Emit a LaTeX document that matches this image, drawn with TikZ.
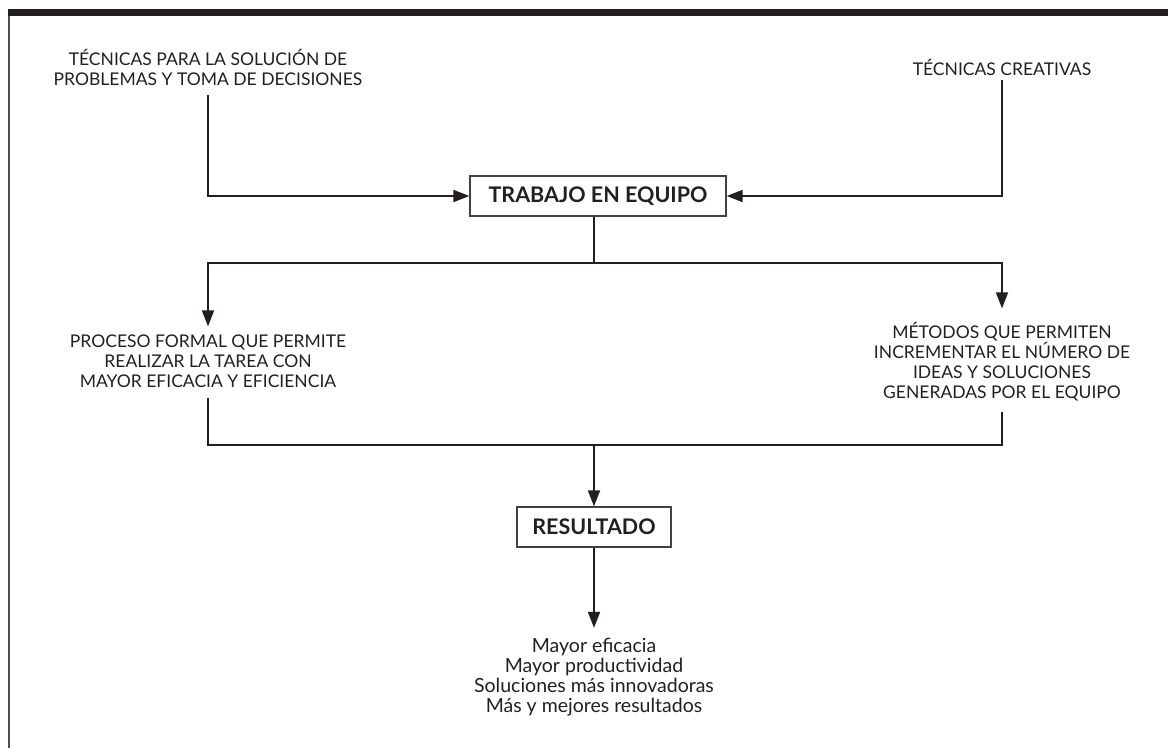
\documentclass[tikz,border=0pt]{standalone}
\usepackage{fontspec}
\setmainfont{Lato}
\usetikzlibrary{arrows.meta}
\definecolor{ink}{HTML}{231F20}
\begin{document}
\begin{tikzpicture}[
        x=1pt, y=-1pt,
        caja/.style={draw=ink!85, line width=1.3pt, fill=white, text=ink,
            font=\bfseries\fontsize{21.5}{24}\selectfont, minimum height=40pt},
        texto/.style={align=center, text=ink, inner sep=0pt,
            font=\fontsize{17.5}{20}\selectfont},
        linea/.style={draw=ink, line width=1.8pt},
        flecha/.style={linea, -{Triangle[width=12pt,length=16pt]}},
    ]
    \useasboundingbox (0,0) rectangle (1168,748);
    % marco
    \fill[ink] (8,9) rectangle (1168,16);
    \draw[ink!80, line width=2pt] (9,16) -- (9,748);

    \node[texto](tecnicas) at (208,67){TÉCNICAS PARA LA SOLUCIÓN DE\\PROBLEMAS Y TOMA DE DECISIONES};
    \node[texto](creativas) at (1002,67){TÉCNICAS CREATIVAS};
    \node[caja, minimum width=256pt](equipo) at (598,196){TRABAJO EN EQUIPO};
    \coordinate (rama) at (594,263);
    \node[texto](proceso) at (208,361){PROCESO FORMAL QUE PERMITE\\REALIZAR LA TAREA CON\\MAYOR EFICACIA Y EFICIENCIA};
    \node[texto](metodos) at (1002,362){MÉTODOS QUE PERMITEN\\INCREMENTAR EL NÚMERO DE\\IDEAS Y SOLUCIONES\\GENERADAS POR EL EQUIPO};
    \coordinate (union) at (594,445);
    \node[caja, minimum width=154pt](resultado) at (594,527){RESULTADO};
    \node[texto, font=\fontsize{19.5}{20}\selectfont](logros) at (594,677){Mayor eficacia\\Mayor productividad\\Soluciones más innovadoras\\Más y mejores resultados};

    \draw[flecha] ([yshift=-10pt]tecnicas.south) |- (equipo.west);
    \draw[flecha] ([yshift=-5pt]creativas.south) |- (equipo.east);
    \draw[linea] (rama |- equipo.south) -- (rama);
    \draw[flecha] (rama) -| ([yshift=8pt]proceso.north);
    \draw[flecha] (rama) -| ([yshift=14pt]metodos.north);
    \draw[linea] ([yshift=-10pt]proceso.south) |- (union);
    \draw[linea] ([yshift=-10pt]metodos.south) |- (union);
    \draw[flecha] (union) -- (resultado.north);
    \draw[flecha] (resultado.south) -- ([yshift=10pt]logros.north);
\end{tikzpicture}
\end{document}
